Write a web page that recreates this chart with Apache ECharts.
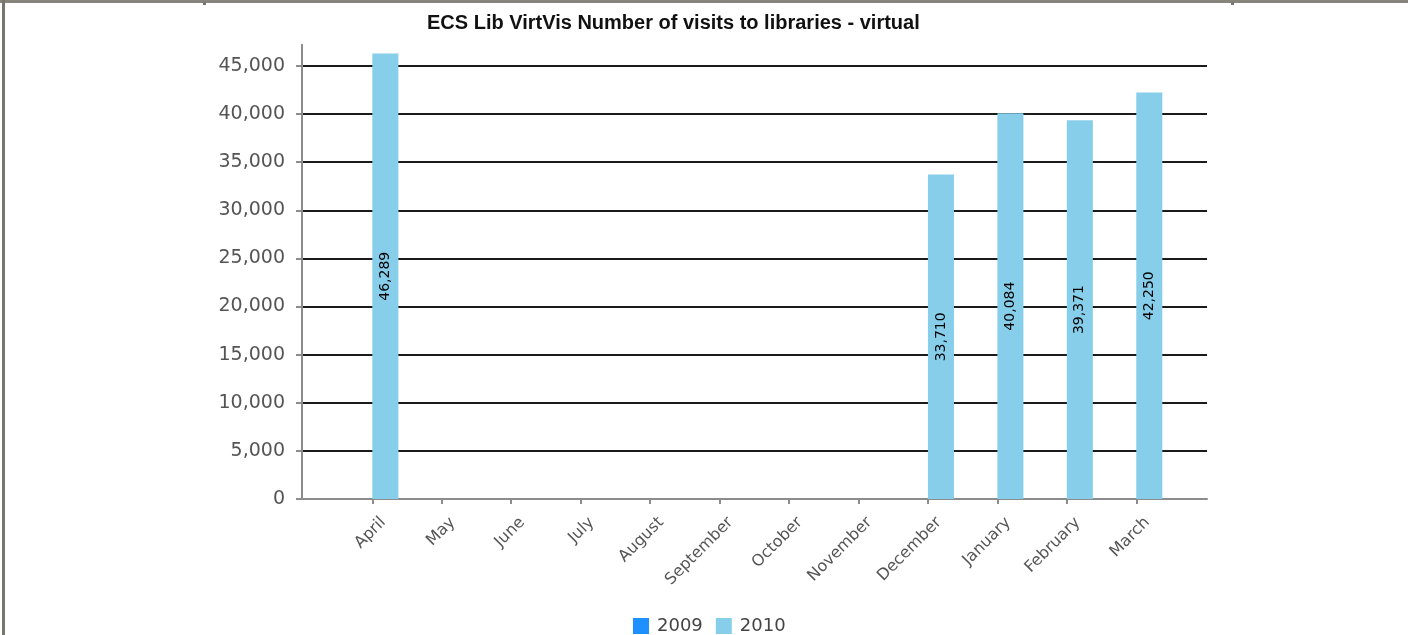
<!DOCTYPE html>
<html>
<head>
<meta charset="utf-8">
<script src="https://cdn.jsdelivr.net/npm/echarts@6/dist/echarts.min.js"></script>
<style>
html,body{margin:0;padding:0;background:#fff;}
#c{width:1408px;height:635px;}
</style>
</head>
<body>
<div id="c"></div>
<script>
var titleText = 'ECS Lib VirtVis Number of visits to libraries - virtual';
var months = ['April','May','June','July','August','September','October','November','December','January','February','March'];
var seriesNames = ['2009','2010'];
var values2009 = ['-','-','-','-','-','-','-','-','-','-','-','-'];
var values2010 = [46289,'-','-','-','-','-','-','-',33710,40084,39371,42250];

var chart = echarts.init(document.getElementById('c'), null, {renderer:'canvas'});
var fmt = function(v){ return Number(v).toLocaleString('en-US'); };
var gridTop = 44.8, gridBottom = 136;
var yMax = 47200;

var option = {
  backgroundColor:'#ffffff',
  animation:false,
  title:{
    text:titleText, left:422, top:8,
    textStyle:{fontFamily:'Liberation Sans', fontWeight:'bold', fontSize:20, color:'#111'}
  },
  legend:{
    data:seriesNames, left:628, top:612, itemWidth:16, itemHeight:16, itemGap:13,
    icon:'rect',
    textStyle:{fontFamily:'DejaVu Sans', fontSize:18, color:'#444', padding:[0,0,0,3]}
  },
  grid:[
    {left:302, right:201, top:gridTop, bottom:gridBottom},
    {left:337.6, right:237, top:gridTop, bottom:gridBottom},
    {left:348.6, right:226, top:gridTop, bottom:gridBottom}
  ],
  xAxis:[
    {gridIndex:0, type:'value', min:0, max:1, axisLabel:{show:false}, axisTick:{show:false}, splitLine:{show:false},
     axisLine:{show:true, lineStyle:{color:'#8c8c8c', width:2}}},
    {gridIndex:1, type:'category', data:months,
     axisLine:{show:false},
     axisTick:{show:true, interval:0, alignWithLabel:true, length:5, lineStyle:{color:'#8c8c8c', width:2}},
     axisLabel:{show:false, interval:0}},
    {gridIndex:2, type:'category', data:months,
     axisLine:{show:false}, axisTick:{show:false},
     axisLabel:{interval:0, rotate:45, margin:21, fontFamily:'DejaVu Sans', fontSize:16, color:'#555'}}
  ],
  yAxis:[
    {gridIndex:0, type:'value', min:0, max:yMax, interval:5000,
     axisLine:{show:true, lineStyle:{color:'#8c8c8c', width:2}},
     axisTick:{show:true, length:6, lineStyle:{color:'#8c8c8c', width:2}},
     axisLabel:{showMaxLabel:false, margin:17, fontFamily:'DejaVu Sans', fontSize:19, color:'#555', formatter:fmt},
     splitLine:{show:true, showMinLine:false, showMaxLine:false, lineStyle:{color:'#1a1a1a', width:2}}},
    {gridIndex:1, type:'value', min:0, max:yMax, interval:5000, show:false, splitLine:{show:false}},
    {gridIndex:2, type:'value', min:0, max:yMax, interval:5000, show:false, splitLine:{show:false}}
  ],
  graphic:[
    {type:'line', silent:true, shape:{x1:0,y1:1.5,x2:1408,y2:1.5}, style:{stroke:'#85857d', lineWidth:3}},
    {type:'line', silent:true, shape:{x1:3.5,y1:0,x2:3.5,y2:635}, style:{stroke:'#77776d', lineWidth:3}},
    {type:'rect', silent:true, shape:{x:203,y:2,width:3,height:3}, style:{fill:'#77776d'}},
    {type:'rect', silent:true, shape:{x:1231,y:2,width:3,height:3}, style:{fill:'#77776d'}}
  ],
  series:[
    {name:'2009', type:'bar', xAxisIndex:1, yAxisIndex:1, data:values2009, barGap:'0%', barCategoryGap:'25%',
     itemStyle:{color:'#1e90ff'}},
    {name:'2010', type:'bar', xAxisIndex:1, yAxisIndex:1, data:values2010, barGap:'0%', barCategoryGap:'25%',
     itemStyle:{color:'#87ceeb'},
     label:{show:true, position:'inside', rotate:90, fontFamily:'DejaVu Sans', fontSize:14, color:'#000',
       formatter:function(p){return fmt(p.value);}}}
  ]
};
chart.setOption(option);
</script>
</body>
</html>
